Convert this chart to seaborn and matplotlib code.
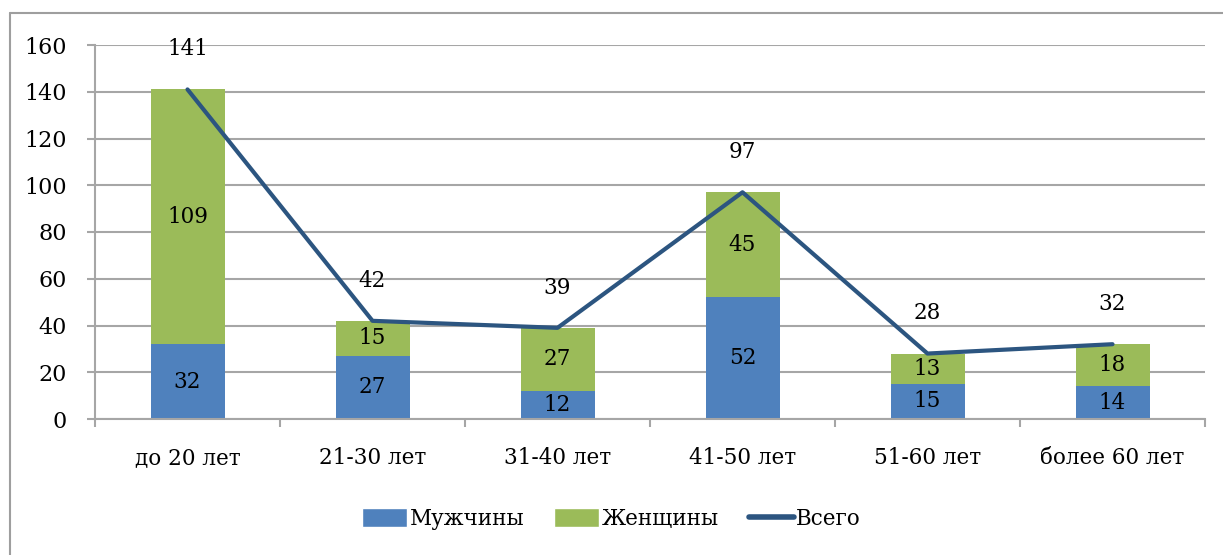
import numpy as np
import matplotlib
matplotlib.use("Agg")
import matplotlib.pyplot as plt
import seaborn as sns
from matplotlib.patches import Patch
from matplotlib.lines import Line2D

# --- данные ---
categories = ['до 20 лет', '21-30 лет', '31-40 лет', '41-50 лет', '51-60 лет', 'более 60 лет']
men = [32, 27, 12, 52, 15, 14]
women = [109, 15, 27, 45, 13, 18]
total = [141, 42, 39, 97, 28, 32]

blue = '#4F81BD'
green = '#9BBB59'
dark = '#2C5580'
grid_c = '#A6A6A6'
fs = 15.5

sns.set_theme(style='white')
plt.rcParams['font.family'] = ['DejaVu Serif']
plt.rcParams['font.size'] = fs
plt.rcParams['text.color'] = 'black'
plt.rcParams['xtick.color'] = 'black'
plt.rcParams['ytick.color'] = 'black'

fig = plt.figure(figsize=(12.23, 5.55), dpi=100)
ax = fig.add_axes([95 / 1223, 1 - 419 / 555, 1110 / 1223, 374 / 555])

sns.barplot(x=categories, y=men, color=blue, width=0.4, ax=ax, saturation=1,
            linewidth=0, zorder=2)
sns.barplot(x=categories, y=women, bottom=men, color=green, width=0.4, ax=ax,
            saturation=1, linewidth=0, zorder=2)
sns.lineplot(x=np.arange(len(total)), y=total, color=dark, lw=3, ax=ax, zorder=3)

# подписи внутри столбцов
for i in range(len(categories)):
    ax.text(i, men[i] / 2, str(men[i]), ha='center', va='center', fontsize=fs, zorder=4)
    ax.text(i, men[i] + women[i] / 2, str(women[i]), ha='center', va='center',
            fontsize=fs, zorder=4)
    ax.annotate(str(total[i]), (i, total[i]), xytext=(0, 29), textcoords='offset points',
                ha='center', va='center', fontsize=fs, zorder=4)

ax.set_xlim(-0.5, 5.5)
ax.set_ylim(0, 160)
ax.set_yticks(np.arange(0, 161, 20))
ax.yaxis.grid(True, color=grid_c, lw=1.5, zorder=0)
ax.set_axisbelow(True)
for s in ['top', 'right']:
    ax.spines[s].set_visible(False)
ax.spines['left'].set_color(grid_c)
ax.spines['left'].set_linewidth(1.5)
ax.spines['bottom'].set_color(grid_c)
ax.spines['bottom'].set_linewidth(1.5)

ax.tick_params(axis='y', which='major', left=True, length=6, width=1.5, color=grid_c,
               pad=14, labelsize=fs + 0.5, labelcolor='black')
ax.set_xticks(np.arange(len(categories)))
ax.set_xticklabels(categories)
ax.set_xticks(np.arange(-0.5, 6, 1), minor=True)
ax.tick_params(axis='x', which='major', bottom=False, length=0, pad=20, labelsize=fs,
               labelcolor='black')
ax.tick_params(axis='x', which='minor', bottom=True, length=6, width=1.5, color=grid_c)

handles = [Patch(facecolor=blue, label='Мужчины'),
           Patch(facecolor=green, label='Женщины'),
           Line2D([0], [0], color=dark, lw=4, label='Всего', solid_capstyle='round')]
fig.legend(handles=handles, loc='center', bbox_to_anchor=(0.5, 1 - 519 / 555), ncol=3,
           frameon=False, fontsize=fs, handlelength=2.1, handleheight=1.0,
           handletextpad=0.1, columnspacing=1.4)

# рамка вокруг всего рисунка
fig.add_artist(Line2D([10 / 1223, 10 / 1223], [-0.05, 1 - 13 / 555],
                      transform=fig.transFigure, color='#9E9E9E', lw=1.5))
fig.add_artist(Line2D([10 / 1223, 1.05], [1 - 13 / 555, 1 - 13 / 555],
                      transform=fig.transFigure, color='#9E9E9E', lw=1.5))

fig.savefig('out.png', dpi=100, facecolor='white')
